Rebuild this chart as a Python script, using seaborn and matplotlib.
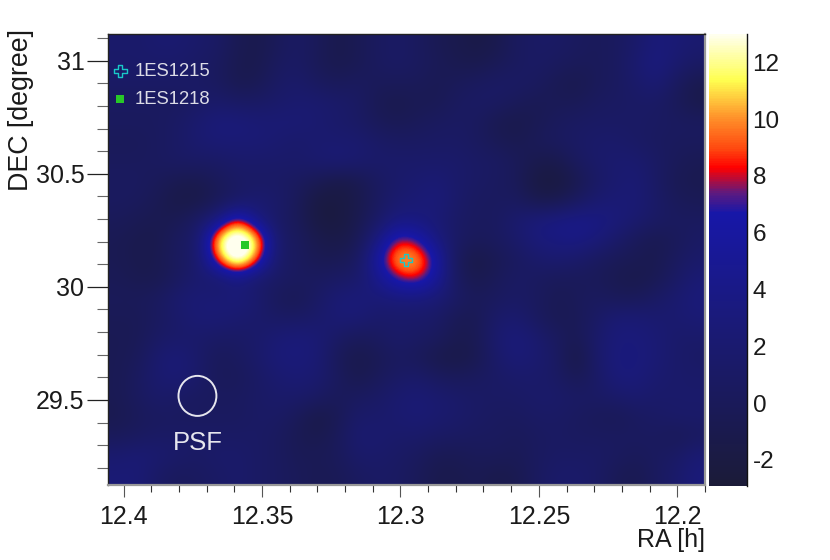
import numpy as np
import seaborn as sns
import matplotlib.pyplot as plt
from matplotlib.colors import LinearSegmentedColormap
from matplotlib.patches import Ellipse

# significance map, read by eye on a coarse grid (top row = high DEC, left col = high RA)
row00 = [1.5,1.5,2,2,1.5,1,-0.5,-1,0,1,0,-1,-0.5,0.5,1,0.5,-0.5,-1,-1.5,-1,0.5,1,1,0.5,0,0.5,1.5,3,2.5,2]
row01 = [1.5,1.5,1.5,1.5,1,0.5,-0.8,-1,0.5,1,-0.2,-1,-0.5,0.5,1,0.5,-0.2,-0.8,-1,-0.3,0.5,1,0.5,0,0,0.5,2,3.5,2,1]
row02 = [1,1,1,1,1,0.5,-0.8,-0.5,1,1.5,0.5,0,0.5,0,0,0,-0.5,0,0.5,1,1,0.5,-0.5,-1,0,0.5,1.5,2.5,0.5,-1]
row03 = [0.5,0.5,0.5,0.5,1,1.5,1,1,1.5,2,2,1.5,1,-0.5,-1,-0.5,-0.5,0.5,1,0.8,0,-0.5,-0.2,-0.3,0.5,0.8,1,1,0,-1.2]
row04 = [0.5,0.5,0.5,1,2,3,3,2.5,2.5,2.5,2,1.5,1,0,-0.5,0,0.5,0.8,0.5,-0.8,-1.2,-0.5,0.3,0.8,1,1,1,0.8,0.5,0.5]
row05 = [0,0,0.5,1,2,2.5,2.5,2.5,2,1.5,2,2,2,1.2,0.8,0.8,1,1,0.5,-0.3,-0.8,0,0.5,1,1.5,1.5,1,0.5,0.3,0.3]
row06 = [0.3,0.3,0.5,1,1,1,1.5,1.5,1.5,1.5,2,2.5,2,1.5,1.5,1.5,1.5,1.5,1,0.8,0,-1,-1.2,0.5,1.5,2,2,1,0,-0.5]
row07 = [0.5,0.5,0,-0.8,-1,0,1,1,1,0.5,-0.5,-1.5,-1,0.5,1.5,2,2.5,1.5,1,0.5,0,-2,-2.2,-1,1,2,2.5,1,-0.5,-0.8]
row08 = [0.5,0.3,-0.5,-1.5,-1.5,-0.3,1,2,1.5,0,-2,-2,-1.2,0.5,2,2.5,3,1.5,0.5,0.5,0.5,-1,-1,0.5,2,2.5,2.5,1.2,0,-0.3]
row09 = [0,-0.5,-0.8,-0.5,1,3.5,9,3.5,1,0,-2,-2.2,-1,1,3.5,3.2,2.5,1,0.5,0.5,2,3,3.8,4.2,3.8,3,2,1,0.5,0.5]
row10 = [-0.5,-1,-1,0.5,1.5,12,17,12,1.5,0.5,-1,-1.5,-0.5,3.5,8.3,7.3,3.5,1,0,0.5,1.5,3,3.5,3.8,3,1.5,0,-0.8,0,1]
row11 = [-0.5,-1,-0.8,0.5,1.5,9,16,9,1.5,0.5,-0.5,-0.5,0.5,6,11,11,6.5,0,-1.5,-0.5,0.5,1.5,2,1.5,0.5,-0.2,-0.5,-0.8,0.5,1.5]
row12 = [-0.3,-0.8,-0.8,0.5,2,1.5,3,1.5,1,0.5,0.5,1,1.5,4.2,7.5,8.5,5.5,0.5,-1,0,1,0.5,0,0,0,-0.8,-1.2,-0.5,1,2.5]
row13 = [0,0,0.5,2,2.5,2.5,3,2,0,-0.5,1,2.5,3,2.5,3,3,2.5,1,0,0.5,1,0.5,-0.5,0,0.5,0,0,1,2,3]
row14 = [-0.3,-0.3,0.5,1.5,2.5,2.5,2,1.5,1,1,1.5,2.5,2.5,1.5,1.5,1.5,1.2,-0.5,-0.5,1.5,2,0.5,-0.5,-0.3,1,2.5,2.5,2,2,2.5]
row15 = [-0.5,-0.3,1,1.5,1.5,1,1,1.5,2.5,3,2.5,1,0,0.5,1.5,1,0.5,-0.8,-0.5,2,3,2,0.5,-0.5,1.5,3,3,2.5,1.5,1.5]
row16 = [-0.5,0,2,2.8,1.5,0,0.5,1.5,2.8,3,2.5,0,-1.2,-0.5,0.5,0,-1.2,-1.5,-0.8,1.5,2.8,2,1,-1.8,1.5,3.2,3.2,2.5,1.5,1]
row17 = [-0.5,0.5,2,2.5,1.5,0,0,1,2,2.5,2,0.5,-1,0,1,1.5,0.5,0,0.5,1,1.5,1.5,1,-0.5,1,3,3,2,1.5,1.5]
row18 = [-0.5,0.5,1.5,1,0.5,0.5,0.5,1,1.5,1.5,1,0,0.5,1,2,2.5,2,1.5,1,1,1,1.5,1.5,1,1,1.5,2,1.5,1.5,1.5]
row19 = [-0.8,0,0.5,0.5,0.5,0.5,0.5,1,1,0,-1.5,-0.5,1.5,1.5,2,2.5,2,1.5,1,0.5,0.5,1,1,0.5,0,-0.3,0.5,1,1.5,1.5]
row20 = [0,0.5,1,1,1,1,1,1,0.5,-0.5,-1,0,2,2,1.5,1.5,1,0.8,0.5,0.5,0,0.5,0.8,0.5,0.5,0.5,0.5,0.5,-0.3,0.5]
row21 = [2,2.5,2,1.5,1,1.5,1.5,1,0.5,-0.3,-0.3,0,1.5,1.5,1,0.5,-0.5,-0.5,0,0,-0.3,0.5,1,1,1,0.5,0,0.5,1,2.5]
row22 = [2.5,2.5,1,0.2,0.5,1,1.5,1,0.5,0,-0.5,-0.3,0.5,1,0.8,0,-1,-1,-0.5,-1.2,-0.8,0.5,1.5,1.5,1,-0.3,-0.8,0.5,1.5,3]

grid = np.array([row00, row01, row02, row03, row04, row05, row06, row07, row08, row09, row10, row11,
                 row12, row13, row14, row15, row16, row17, row18, row19, row20, row21, row22])

# map limits
ra_left, ra_right = 12.4056, 12.1900
dec_top, dec_bottom = 31.118, 29.124
z_min, z_max = -2.92, 13.0

# sources
names = ['1ES1215', '1ES1218']
src_ra = [12.298, 12.3563]
src_dec = [30.12, 30.184]

# PSF circle
psf_ra, psf_dec = 12.3733, 29.518
psf_w, psf_h = 0.0137, 0.177

ra_major = [12.4, 12.35, 12.3, 12.25, 12.2]
ra_major_labels = ['12.4', '12.35', '12.3', '12.25', '12.2']
ra_minor = [12.39, 12.38, 12.37, 12.36, 12.34, 12.33, 12.32, 12.31, 12.29, 12.28, 12.27, 12.26,
            12.24, 12.23, 12.22, 12.21, 12.19]
dec_major = [29.5, 30, 30.5, 31]
dec_major_labels = ['29.5', '30', '30.5', '31']
dec_minor = [29.2, 29.3, 29.4, 29.6, 29.7, 29.8, 29.9, 30.1, 30.2, 30.3, 30.4, 30.6, 30.7, 30.8, 30.9, 31.1]
cbar_ticks = [-2, 0, 2, 4, 6, 8, 10, 12]
cbar_labels = ['-2', '0', '2', '4', '6', '8', '10', '12']

# colour palette stops
stop_values = [-2.92, 0, 3, 6.7, 7.4, 8.3, 9.0, 10.0, 11.4, 12.2, 13.0]
stop_colors = ['#1b1b38', '#1a1a5a', '#1a1a7a', '#1717a8', '#5c1a80', '#ff0000', '#ff4a10', '#ff8c28',
               '#ffff50', '#ffffa0', '#ffffee']

stops = [(v - z_min) / (z_max - z_min) for v in stop_values]
cmap = LinearSegmentedColormap.from_list('map', list(zip(stops, stop_colors)), N=256)


def x_pos(ra):
    return (ra_left - np.asarray(ra)) / (ra_left - ra_right) * grid.shape[1]


def y_pos(dec):
    return (dec_top - np.asarray(dec)) / (dec_top - dec_bottom) * grid.shape[0]


sns.set_theme(style='ticks')
plt.rcParams['font.family'] = ['Liberation Sans', 'DejaVu Sans']

fig = plt.figure(figsize=(8.3, 5.6), dpi=100)
ax = fig.add_axes([108 / 830, 1 - 485 / 560, 597 / 830, 451 / 560])
cax = fig.add_axes([709 / 830, 1 - 486 / 560, 38 / 830, 452 / 560])

sns.heatmap(grid, ax=ax, cbar_ax=cax, cmap=cmap, vmin=z_min, vmax=z_max, xticklabels=False, yticklabels=False)
ax.collections[0].set_visible(False)
# smooth display of the same grid
ax.imshow(grid, cmap=cmap, vmin=z_min, vmax=z_max, extent=(0, grid.shape[1], grid.shape[0], 0),
          interpolation='bicubic', aspect='auto')
ax.set_xlim(0, grid.shape[1])
ax.set_ylim(grid.shape[0], 0)

# sources
ax.scatter(x_pos(src_ra[0]), y_pos(src_dec[0]), marker='P', s=80, facecolors='none',
           edgecolors='#19c8c8', linewidths=1.0, label=names[0], zorder=4)
ax.scatter(x_pos(src_ra[1]), y_pos(src_dec[1]), marker='s', s=32, color='#28c828',
           linewidths=0, label=names[1], zorder=4)
leg = ax.legend(loc='upper left', bbox_to_anchor=(0.0084, 0.936), frameon=False, fontsize=13.3,
                labelcolor='#dcdce6', labelspacing=0.62, handlelength=0.8, handletextpad=0.38,
                borderpad=0, borderaxespad=0)

ax.add_patch(Ellipse((x_pos(psf_ra), y_pos(psf_dec)),
                     psf_w / (ra_left - ra_right) * grid.shape[1],
                     psf_h / (dec_top - dec_bottom) * grid.shape[0],
                     fill=False, edgecolor='#e6e6ee', linewidth=1.4, zorder=4))
ax.text(x_pos(psf_ra), y_pos(29.31), 'PSF', color='#e6e6ee', fontsize=18.5, ha='center', va='center')

ax.set_xticks(x_pos(ra_major))
ax.set_xticklabels(ra_major_labels)
ax.set_xticks(x_pos(ra_minor), minor=True)
ax.set_yticks(y_pos(dec_major))
ax.set_yticklabels(dec_major_labels, rotation=0)
ax.set_yticks(y_pos(dec_minor), minor=True)
ax.tick_params(axis='x', which='major', length=8.6, width=0.8, labelsize=18, color='#555555', labelcolor='#1a1a1a', pad=6)
ax.tick_params(axis='x', which='minor', length=5, width=0.8, color='#333333')
ax.tick_params(axis='y', which='major', length=15, width=0.9, labelsize=18, color='#222222', labelcolor='#1a1a1a', pad=2)
ax.tick_params(axis='y', which='minor', length=8, width=0.8, color='#666666')

for side in ['top', 'left']:
    ax.spines[side].set_visible(True)
    ax.spines[side].set_color('#222222')
    ax.spines[side].set_linewidth(1.0)
for side in ['bottom', 'right']:
    ax.spines[side].set_visible(True)
    ax.spines[side].set_color('#999999')
    ax.spines[side].set_linewidth(1.6)

ax.set_xlabel('RA [h]', fontsize=18, color='#1a1a1a', loc='right', labelpad=-1)
ax.set_ylabel('DEC [degree]', fontsize=19.3, color='#1a1a1a', y=1.012, ha='right', labelpad=1)

cbar = ax.collections[0].colorbar
cbar.set_ticks(cbar_ticks)
cbar.set_ticklabels(cbar_labels)
cbar.outline.set_visible(False)
cax.spines['right'].set_visible(True)
cax.spines['right'].set_color('#111111')
cax.spines['right'].set_linewidth(1.0)
cax.tick_params(direction='in', length=15, width=0.8, labelsize=17.5, color='#222222', labelcolor='#1a1a1a', pad=4,
                right=True, labelright=True)

fig.savefig('out.png', dpi=100)
